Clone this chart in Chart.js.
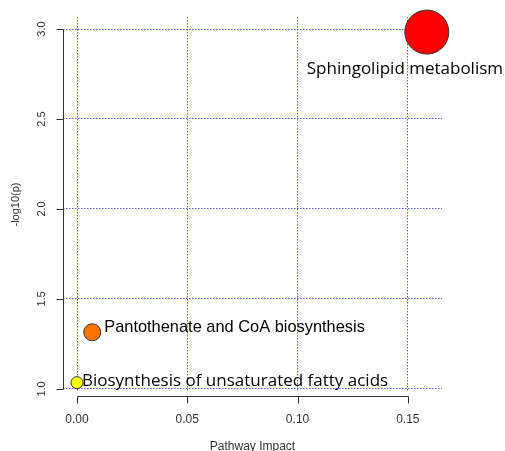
<!DOCTYPE html>
<html>
<head>
<meta charset="utf-8">
<script src="https://cdn.jsdelivr.net/npm/chart.js@4"></script>
<style>
  body { margin: 0; background: #fff; }
</style>
</head>
<body>
<canvas id="myChart" width="505" height="451"></canvas>
<script>
// data
var pathways = ['Sphingolipid metabolism', 'Pantothenate and CoA biosynthesis', 'Biosynthesis of unsaturated fatty acids'];
var impact = [0.1586, 0.0069, 0.0];
var logP = [2.983, 1.315, 1.035];
var xTicks = [0.00, 0.05, 0.10, 0.15];
var yTicks = [1.0, 1.5, 2.0, 2.5, 3.0];

// look of the bubbles and their labels
var fills = ['#ff0000', '#ff7400', '#ffff00'];
var radii = [22, 8.5, 6];
var labelLook = [
    { dx: -120, dy: 42, font: '17px "Open Sans"' },
    { dx: 12, dy: 0, font: '16.4px "Liberation Sans"' },
    { dx: 5, dy: 3.5, font: '17px "Open Sans"' }
];

var points = impact.map(function (v, i) { return { x: v, y: logP[i] }; });

// R style axes: black lines only between first and last tick
var rAxes = {
    id: 'rAxes',
    afterDraw: function (chart) {
        var ctx = chart.ctx, xs = chart.scales.x, ys = chart.scales.y, area = chart.chartArea;
        ctx.save();
        ctx.strokeStyle = '#333';
        ctx.lineWidth = 1;
        ctx.beginPath();
        var lx = Math.round(area.left) + 0.5;
        ctx.moveTo(lx, Math.round(ys.getPixelForValue(yTicks[0])) + 0.5);
        ctx.lineTo(lx, Math.round(ys.getPixelForValue(yTicks[yTicks.length - 1])) + 0.5);
        yTicks.forEach(function (v) {
            var p = Math.round(ys.getPixelForValue(v)) + 0.5;
            ctx.moveTo(lx, p);
            ctx.lineTo(lx - 7, p);
        });
        var by = Math.round(area.bottom) + 4.5;
        ctx.moveTo(Math.round(xs.getPixelForValue(xTicks[0])) + 0.5, by);
        ctx.lineTo(Math.round(xs.getPixelForValue(xTicks[xTicks.length - 1])) + 0.5, by);
        xTicks.forEach(function (v) {
            var p = Math.round(xs.getPixelForValue(v)) + 0.5;
            ctx.moveTo(p, by);
            ctx.lineTo(p, by + 7);
        });
        ctx.stroke();

        // y tick labels, turned like R's las=0
        ctx.fillStyle = '#333';
        ctx.font = '11px "Liberation Sans"';
        ctx.textAlign = 'center';
        ctx.textBaseline = 'middle';
        yTicks.forEach(function (v) {
            ctx.save();
            ctx.translate(area.left - 21, ys.getPixelForValue(v));
            ctx.rotate(-Math.PI / 2);
            ctx.fillText(v.toFixed(1), 0, 0);
            ctx.restore();
        });

        // pathway names next to bubbles
        ctx.fillStyle = '#000';
        ctx.textAlign = 'left';
        ctx.textBaseline = 'alphabetic';
        var meta = chart.getDatasetMeta(0);
        pathways.forEach(function (name, i) {
            var el = meta.data[i];
            ctx.font = labelLook[i].font;
            ctx.fillText(name, el.x + labelLook[i].dx, el.y + labelLook[i].dy);
        });
        ctx.restore();
    }
};

var ctx = document.getElementById('myChart').getContext('2d');
var chart = new Chart(ctx, {
    type: 'scatter',
    data: {
        datasets: [{
            data: points,
            pointRadius: radii,
            pointHoverRadius: radii,
            pointBackgroundColor: fills,
            pointBorderColor: '#333',
            pointBorderWidth: 1,
            clip: false
        }]
    },
    options: {
        responsive: false,
        animation: false,
        events: [],
        layout: { autoPadding: false, padding: { top: 17, right: 63, left: 0, bottom: 0 } },
        plugins: { legend: { display: false }, tooltip: { enabled: false } },
        scales: {
            x: {
                type: 'linear',
                min: -0.00635,
                max: 0.1655,
                afterBuildTicks: function (scale) {
                    scale.ticks = xTicks.map(function (v) { return { value: v }; });
                },
                afterFit: function (scale) { scale.height = 59; },
                grid: { color: '#5c5cff', lineWidth: 1, drawTicks: false },
                border: { display: false, dash: [1.5, 1.5] },
                ticks: {
                    padding: 20,
                    color: '#333',
                    font: { family: 'Liberation Sans', size: 12 },
                    callback: function (v) { return v.toFixed(2); }
                },
                title: {
                    display: true,
                    text: 'Pathway Impact',
                    color: '#333',
                    padding: 0,
                    font: { family: 'Liberation Sans', size: 12, lineHeight: 0.8 }
                }
            },
            y: {
                type: 'linear',
                min: 0.983,
                max: 3.0667,
                afterBuildTicks: function (scale) {
                    scale.ticks = yTicks.map(function (v) { return { value: v }; });
                },
                afterFit: function (scale) { scale.width = 63; },
                grid: { color: '#5c5cff', lineWidth: 1, drawTicks: false },
                border: { display: false, dash: [1.5, 1.5] },
                ticks: { display: false },
                title: {
                    display: true,
                    text: '-log10(p)',
                    color: '#333',
                    padding: { top: 9 },
                    font: { family: 'Liberation Sans', size: 11, lineHeight: 1.2 }
                }
            }
        }
    },
    plugins: [rAxes]
});
</script>
</body>
</html>
